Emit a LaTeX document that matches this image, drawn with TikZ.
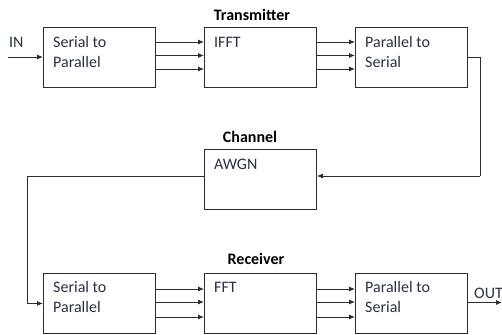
\documentclass[tikz,border=0pt]{standalone}
\usepackage{fontspec}
\setmainfont{Carlito}
\usetikzlibrary{arrows.meta,calc}
\definecolor{ink}{RGB}{40,48,66}
\definecolor{wire}{RGB}{45,45,45}
\tikzset{
  block/.style={draw=wire,line width=0.9pt,minimum width=112pt,minimum height=60pt,inner sep=0pt,anchor=north west},
  % the base anchor of a two-line caption sits on its last line
  blocktext/.style={anchor=base west,inner sep=0pt,text=ink,font=\fontsize{16}{20}\selectfont,align=left},
  title/.style={anchor=base,inner sep=0pt,font=\fontsize{16}{20}\selectfont\bfseries},
  io/.style={anchor=base west,inner sep=0pt,text=ink,font=\fontsize{16}{20}\selectfont},
  flow/.style={draw=wire,line width=0.9pt,-{Latex[length=6pt,width=5pt]}},
  wireline/.style={draw=wire,line width=0.9pt}
}
\begin{document}
\begin{tikzpicture}[x=1pt,y=-1pt]
\useasboundingbox (0,0) rectangle (502,334);

% transmitter chain
\node[block] (tx1) at (43,27) {};
\node[block] (tx2) at (204,27) {};
\node[block] (tx3) at (355,27) {};
% channel
\node[block] (ch) at (204,149) {};
% receiver chain
\node[block] (rx1) at (43,273) {};
\node[block] (rx2) at (204,273) {};
\node[block] (rx3) at (355,273) {};

% block captions
\node[blocktext] (tx1t) at ($(tx1.north west)+(10,41)$) {Serial to\\Parallel};
\node[blocktext] (tx2t) at ($(tx2.north west)+(10,21)$) {IFFT};
\node[blocktext] (tx3t) at ($(tx3.north west)+(10,41)$) {Parallel to\\Serial};
\node[blocktext] (cht) at ($(ch.north west)+(10,20)$) {AWGN};
\node[blocktext] (rx1t) at ($(rx1.north west)+(10,39.5)$) {Serial to\\Parallel};
\node[blocktext] (rx2t) at ($(rx2.north west)+(10,19.5)$) {FFT};
\node[blocktext] (rx3t) at ($(rx3.north west)+(10,39.5)$) {Parallel to\\Serial};

% section titles
\node[title] (ttx) at (252,21) {Transmitter};
\node[title] (tch) at (250,142) {Channel};
\node[title] (trx) at (256,264) {Receiver};

% input / output
\node[io] (in) at (9,48) {IN};
\coordinate (inS) at (8,57);
\draw[flow] (inS) -- (inS -| tx1.west);
\node[io] (out) at (474,298) {OUT};
\coordinate (outE) at (502,302.5);
\draw[flow] (outE -| rx3.east) -- (outE);

% parallel buses
\foreach \a/\b in {tx1/tx2,tx2/tx3}{
  \foreach \d in {15,28.5,42}{
    \draw[flow] ($(\a.north east)+(0,\d)$) -- ($(\b.north west)+(0,\d)$);
  }
}
\foreach \a/\b in {rx1/rx2,rx2/rx3}{
  \foreach \d in {16,29,44}{
    \draw[flow] ($(\a.north east)+(0,\d)$) -- ($(\b.north west)+(0,\d)$);
  }
}

% loop from transmitter through channel to receiver
\coordinate (loopR) at (480,176);
\coordinate (loopL) at (27,176);
\draw[wireline] (tx3.east) -| (loopR);
\draw[flow] (loopR) -- (loopR -| ch.east);
\draw[wireline] (loopL -| ch.west) -- (loopL);
\draw[flow] (loopL) |- (rx1.west);
\end{tikzpicture}
\end{document}
